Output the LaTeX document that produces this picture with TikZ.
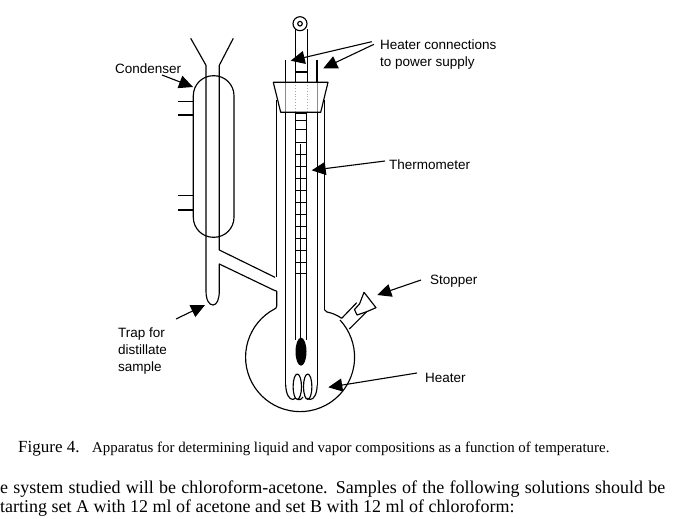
\documentclass[tikz,border=0pt]{standalone}
\usepackage{fontspec}
\setmainfont{Liberation Sans}
\newfontfamily\serifcap{Liberation Serif}
\usetikzlibrary{arrows.meta}
\tikzset{
  glass/.style={line width=1.15pt,line join=round},
  thin glass/.style={line width=1pt},
  seen through/.style={line width=0.9pt,draw=black!45},
  pointer/.style={line width=1.1pt,-{Triangle[length=14pt,width=13pt]},shorten >=0pt},
  lab/.style={font=\fontsize{13.5}{17}\selectfont,align=left,inner sep=0pt,anchor=west},
}
\begin{document}
\begin{tikzpicture}[x=1pt,y=-1pt]
\useasboundingbox (0,0) rectangle (681,519);

% Heater leads and top loop
\draw[glass] (300,23.7) circle (7);
\draw[glass] (300,23.7) circle (2.3);
\draw[glass] (295.3,29) -- (295.3,82);
\draw[glass] (307.3,29) -- (307.3,82);
\draw[glass] (295.3,72) -- (307.3,72);
\draw[glass] (285.7,60) -- (285.7,82);
\draw[glass] (317,60) -- (317,82);

% Stopper of the central neck
\draw[seen through] (285.7,82) -- (285.7,112);
\draw[seen through] (317,82) -- (317,112);
\draw[seen through,dotted,draw=black!35] (295.3,82) -- (295.3,112);
\draw[seen through,dotted,draw=black!35] (307.3,82) -- (307.3,112);
\draw[glass] (273.3,82.3) -- (328,82.3) -- (320.7,112.3) -- (280.7,112.3) -- cycle;

% Inner jacket and flask neck
\draw[glass] (285.5,112.3) -- (285.5,385);
\draw[glass] (317.2,112.3) -- (317.2,385);
\draw[glass] (276.7,100) -- (276.7,277.3);
\draw[glass] (324.7,100) -- (324.7,310);

% Thermometer scale
\draw[glass] (295.7,113) -- (295.7,340);
\draw[glass] (306.6,113) -- (306.6,340);
\draw[glass] (295.7,113) -- (306.6,113);
\foreach \yy in {121,130,142.3,154.5,166.5,178.7,190.8,202.8,214.8,226.8,238.8,250.8,262.7,273.5}
  \draw[thin glass] (295.7,\yy) -- (306.6,\yy);
\draw[thin glass] (300.7,144) -- (300.7,345);
\fill[black] (301,351.7) ellipse (5.5 and 14);

% Heater coil: two loops and the leads that join them to the jacket walls
\draw[glass] (297.3,386.7) ellipse (4.2 and 12.7);
\draw[glass] (307.7,386.7) ellipse (4.2 and 12.7);
\draw[glass] (285.7,385) .. controls (286,394) and (289,399.5) .. (293,399.5)
  .. controls (294,399.5) and (295,399) .. (295.5,398);
\draw[glass] (317.2,385) .. controls (317,394) and (314,399.5) .. (310,399.5)
  .. controls (309,399.5) and (308,399) .. (307.5,398);
\draw[glass] (297.3,399.4) .. controls (299,400) and (301,400) .. (303,397);

% Flask
\draw[glass] (276.7,291) -- (276.7,306)
  .. controls (276.7,308) and (275.5,308.5) .. (274.5,309)
  arc[start angle=-118,end angle=-402.9,radius=54.5];
\draw[glass] (324.7,310) .. controls (325,311.5) and (326,311.5) .. (327,312)
  .. controls (332,313) and (337,315) .. (341.7,318.3);
\draw[glass] (341.7,318.3) -- (356.7,302.7);
\draw[glass] (349.3,329) -- (366.7,311.7);

% Side stopper
\draw[glass] (364,292.3) -- (376,307.7) -- (366,312) -- (357,315) -- (354.5,309.5) -- (359.5,304) -- cycle;

% Condenser
\draw[glass,rounded corners=20pt] (193.3,75.7) rectangle (234,237.3);
\draw[glass] (190.7,38.3) -- (206,65.3) -- (206,291)
  .. controls (206,300) and (209,305) .. (213,305)
  .. controls (217,305) and (219.3,299) .. (219.3,291) -- (219.3,264) -- (275,290.7) -- (276.7,291);
\draw[glass] (233.3,38.3) -- (219.3,65.3) -- (219.3,250) -- (275,277.3);
\foreach \yy in {101.7,115,195.7,210}
  \draw[glass] (178,\yy) -- (193.3,\yy);

% Labels
\node[lab] (condenserlab) at (115,68.5) {Condenser};
\node[lab] (heaterconn) at (380,54.5) {Heater connections\\to power supply};
\node[lab] (thermolab) at (389,165) {Thermometer};
\node[lab] (stopperlab) at (430,281.5) {Stopper};
\node[lab] (traplab) at (118,351) {Trap for\\distillate\\sample};
\node[lab] (heaterlab) at (425,377.5) {Heater};

% Pointers
\coordinate (c0) at (162,75);   \coordinate (c1) at (193,87);
\coordinate (h0) at (371.7,41.7); \coordinate (h1) at (290.7,60.7);
\coordinate (h2) at (374,44.3); \coordinate (h3) at (323.3,68.3);
\coordinate (t0) at (385,161);  \coordinate (t1) at (311.7,170.3);
\coordinate (s0) at (421,280);  \coordinate (s1) at (377.3,295);
\coordinate (p0) at (417,373);  \coordinate (p1) at (328.3,387.3);
\coordinate (r0) at (176,319);  \coordinate (r1) at (205,305);
\foreach \a/\b in {c0/c1,h0/h1,h2/h3,t0/t1,s0/s1,p0/p1,r0/r1}
  \draw[pointer] (\a) -- (\b);

% Caption and running text
\node[inner sep=0pt,anchor=base west,font=\serifcap\fontsize{17}{18}\selectfont] (figlab) at (18,452) {Figure 4.};
\node[inner sep=0pt,anchor=base west,font=\serifcap\fontsize{14.9}{16}\selectfont] (caption) at (92,452) {Apparatus for determining liquid and vapor compositions as a function of temperature.};
\node[inner sep=0pt,anchor=base west,font=\serifcap\fontsize{18}{20}\selectfont] (bodya) at (0,493) {\hbox to 665pt{e system studied will be chloroform-acetone. Samples of the following solutions should be}};
\node[inner sep=0pt,anchor=base west,font=\serifcap\fontsize{18}{20}\selectfont] (bodyb) at (0,512) {tarting set A with 12 ml of acetone and set B with 12 ml of chloroform:};
\end{tikzpicture}
\end{document}
